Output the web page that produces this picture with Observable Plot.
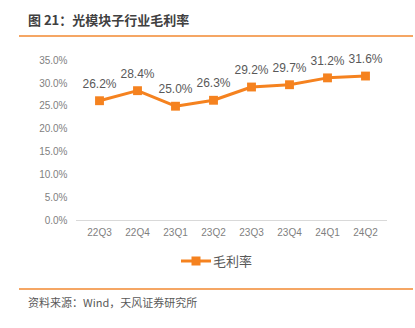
<!DOCTYPE html>
<html>
<head>
<meta charset="utf-8">
<script src="https://cdn.jsdelivr.net/npm/d3@7"></script>
<script src="https://cdn.jsdelivr.net/npm/@observablehq/plot@0.6"></script>
<style>
  body { margin: 0; background: #fff; font-family: "Noto Sans CJK SC", "Noto Sans", sans-serif; }
  #wrap { position: relative; width: 415px; height: 328px; overflow: hidden; }
  #title { position: absolute; left: 28px; top: 11px; font-size: 13px; font-weight: bold; color: #404040; white-space: nowrap; line-height: 18px; }
  .rule { position: absolute; left: 19px; width: 394px; height: 2px; background: #F5A664; }
  #chart { position: absolute; left: 0; top: 0; }
  #legend { position: absolute; left: 181px; top: 251px; display: flex; align-items: center; font-size: 13px; color: #595959; }
  #source { position: absolute; left: 28px; top: 294px; font-size: 11px; color: #595959; white-space: nowrap; line-height: 16px; }
</style>
</head>
<body>
<div id="wrap">
  <div id="title">图 21：光模块子行业毛利率</div>
  <div class="rule" style="top:35px"></div>
  <div id="chart"></div>
  <div id="legend">
    <svg width="30" height="12"><line x1="0" y1="6" x2="30" y2="6" stroke="#F5821F" stroke-width="3"/><rect x="10.5" y="1.5" width="9" height="9" fill="#F5821F"/></svg>
    <span style="margin-left:2px">毛利率</span>
  </div>
  <div class="rule" style="top:288px"></div>
  <div id="source">资料来源：Wind，天风证券研究所</div>
</div>
<script>
const quarters = ["22Q3", "22Q4", "23Q1", "23Q2", "23Q3", "23Q4", "24Q1", "24Q2"];
const grossMargin = [26.2, 28.4, 25.0, 26.3, 29.2, 29.7, 31.2, 31.6];
const yTicks = [0, 5, 10, 15, 20, 25, 30, 35];

const data = quarters.map((q, i) => ({ q, v: grossMargin[i] }));
const orange = "#F5821F";

const plot = Plot.plot({
  width: 415,
  height: 250,
  marginTop: 60,
  marginBottom: 30,
  marginLeft: 76,
  marginRight: 28,
  style: { fontFamily: "Liberation Sans, Arial, sans-serif", background: "transparent" },
  x: { type: "band", domain: quarters, padding: 0, label: null },
  y: { domain: [0, 35], label: null },
  marks: [
    Plot.axisY({ ticks: yTicks, tickSize: 0, tickPadding: 9, tickFormat: d => d.toFixed(1) + "%", fontSize: 10, color: "#7f7f7f", label: null }),
    Plot.axisX({ tickSize: 0, tickPadding: 8, fontSize: 10, color: "#7f7f7f", label: null }),
    Plot.ruleY([0], { stroke: "#d9d9d9", strokeWidth: 1 }),
    Plot.line(data, { x: "q", y: "v", stroke: orange, strokeWidth: 3 }),
    Plot.dot(data, { x: "q", y: "v", symbol: "square", r: 5, fill: orange }),
    Plot.text(data, { x: "q", y: "v", text: d => d.v.toFixed(1) + "%", dy: -17, fontSize: 12, fill: "#595959" })
  ]
});
document.getElementById("chart").appendChild(plot);
</script>
</body>
</html>
